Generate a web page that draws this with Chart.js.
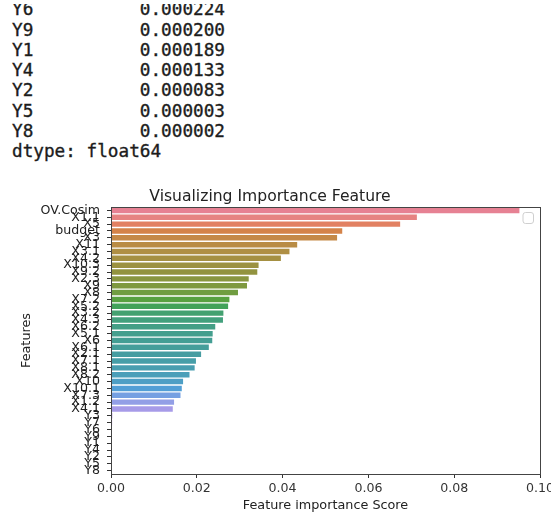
<!DOCTYPE html>
<html><head><meta charset="utf-8">
<script src="https://cdn.jsdelivr.net/npm/chart.js@4/dist/chart.umd.min.js"></script>
<style>
html,body{margin:0;padding:0;background:#fff;width:551px;height:516px;overflow:hidden;position:relative;}
#clip{position:absolute;left:0;top:4px;width:551px;height:170px;overflow:hidden;}
#out{position:absolute;left:12px;top:-4.75px;margin:0;font-family:"DejaVu Sans Mono",monospace;font-size:17.7px;line-height:20.3px;color:#1c1c1c;-webkit-text-stroke:0.35px #1c1c1c;white-space:pre;}
#c{position:absolute;left:0;top:0;}
</style></head><body>
<div id="clip"><pre id="out"></pre></div>
<canvas id="c" width="565" height="516"></canvas>
<script>
// ---- data ----
const features = ["OV.Cosim","X1.1","X5","budget","X3","X11","X3.1","X4.2","X10.3","X9.2",
  "X2.3","X9","X8","X7.2","X5.2","X3.2","X4.3","X6.2","X5.1","X6",
  "X6.1","X2.1","X7.1","X8.1","X8.2","X10","X10.1","X7.3","X1.2","X4.1",
  "Y3","Y7","Y6","Y9","Y1","Y4","Y2","Y5","Y8"];
const importance = [0.0952,0.0713,0.0674,0.0539,0.0527,0.0434,0.0416,0.0396,0.0344,0.0341,
  0.0321,0.0317,0.0296,0.0276,0.0273,0.0262,0.0261,0.0243,0.0237,0.0236,
  0.0228,0.0210,0.0198,0.0195,0.0183,0.0168,0.0165,0.0162,0.0147,0.0144,
  0.000310,0.000262,0.000224,0.000200,0.000189,0.000133,0.000083,0.000003,0.000002];
const xTickValues = [0.00,0.02,0.04,0.06,0.08,0.10];
const printedRows = 7;
const dtypeText = "dtype: float64";
const chartTitle = "Visualizing Importance Feature";
const xTitle = "Feature importance Score";
const yTitle = "Features";

// ---- printed series tail ----
const lines = [];
for (let i = features.length - printedRows; i < features.length; i++) {
  lines.push(features[i].padEnd(12) + importance[i].toFixed(6));
}
lines.push(dtypeText);
document.getElementById('out').textContent = lines.join('\n');

// ---- seaborn husl palette + desaturation ----
const M = [[3.2406,-1.5372,-0.4986],[-0.9689,1.8758,0.0415],[0.0557,-0.2040,1.0570]];
function maxChroma(L,H){
  const hr = H/360*2*Math.PI, sH=Math.sin(hr), cH=Math.cos(hr);
  let sub1 = Math.pow(L+16,3)/1560896;
  let sub2 = sub1>0.008856?sub1:L/903.3;
  let res = Infinity;
  for (const [m1,m2,m3] of M){
    const top=(0.99915*m1+1.05122*m2+1.14460*m3)*sub2;
    const rb=0.86330*m3-0.17266*m2, lb=0.12949*m3-0.38848*m1;
    const bottom=(rb*sH+lb*cH)*sub2;
    for (const t of [0,1]){
      const C=L*(top-1.05122*t)/(bottom+0.17266*sH*t);
      if (C>0 && C<res) res=C;
    }
  }
  return res;
}
function fromLinear(c){return c<=0.0031308?12.92*c:1.055*Math.pow(c,1/2.4)-0.055;}
function huslToRgb(h,s,l){
  const C = maxChroma(l,h)/100*s;
  const hr=h/360*2*Math.PI;
  const U=C*Math.cos(hr), V=C*Math.sin(hr);
  const varY0=(l+16)/116;
  const varY = Math.pow(varY0,3)>0.008856?Math.pow(varY0,3):(116*varY0-16)/903.3;
  const varU=U/(13*l)+0.19784, varV=V/(13*l)+0.46834;
  const Y=varY*1.0;
  const X=0-(9*Y*varU)/((varU-4)*varV-varU*varV);
  const Z=(9*Y-15*varV*Y-varV*X)/(3*varV);
  return M.map(r=>Math.min(1,Math.max(0,fromLinear(r[0]*X+r[1]*Y+r[2]*Z))));
}
function rgbToHls(r,g,b){
  const mx=Math.max(r,g,b), mn=Math.min(r,g,b), l=(mx+mn)/2;
  if (mx===mn) return [0,l,0];
  const d=mx-mn; const s = l<=0.5? d/(mx+mn) : d/(2-mx-mn);
  let h; const rc=(mx-r)/d, gc=(mx-g)/d, bc=(mx-b)/d;
  if (r===mx) h=bc-gc; else if (g===mx) h=2+rc-bc; else h=4+gc-rc;
  h=((h/6)%1+1)%1; return [h,l,s];
}
function hlsToRgb(h,l,s){
  if (s===0) return [l,l,l];
  const m2 = l<=0.5? l*(1+s) : l+s-l*s, m1=2*l-m2;
  const v=(hue)=>{hue=((hue%1)+1)%1; if(hue<1/6) return m1+(m2-m1)*hue*6; if(hue<0.5) return m2; if(hue<2/3) return m1+(m2-m1)*(2/3-hue)*6; return m1;};
  return [v(h+1/3),v(h),v(h-1/3)];
}
function palette(n){
  const out=[];
  for (let i=0;i<n;i++){
    const h=((i/n+0.01)%1)*359;
    const rgb=huslToRgb(h,0.9*99,0.65*99);
    const [hh,ll,ss]=rgbToHls(...rgb);
    const d=hlsToRgb(hh,ll,ss*0.75);
    out.push('rgb('+d.map(c=>Math.round(c*255)).join(',')+')');
  }
  return out;
}
const colors = palette(features.length);

// ---- plugins ----
const frame = {
  id:'frame',
  afterDraw(chart){
    const {ctx, chartArea:a} = chart;
    ctx.save();
    ctx.strokeStyle='#444'; ctx.lineWidth=1;
    ctx.strokeRect(Math.round(a.left)+0.5, Math.round(a.top)+0.5, Math.round(a.right-a.left), Math.round(a.bottom-a.top));
    // empty legend box
    ctx.strokeStyle='#cfcfcf'; ctx.fillStyle='rgba(255,255,255,0.8)';
    const x=a.right-17, y=a.top+5.5, w=10.5, h=11, r=2.5;
    ctx.beginPath();
    ctx.roundRect(x,y,w,h,r);
    ctx.fill(); ctx.stroke();
    ctx.restore();
  }
};

const font = 'DejaVu Sans';
new Chart(document.getElementById('c'), {
  type:'bar',
  data:{ labels: features, datasets:[{ data: importance, backgroundColor: colors, borderWidth:0,
    barPercentage:0.8, categoryPercentage:1.0 }]},
  options:{
    indexAxis:'y', responsive:false, animation:false,
    layout:{ padding:{ left:0, right:25, top:180, bottom:0 } },
    plugins:{
      legend:{display:false}, tooltip:{enabled:false},
      title:{ display:true, text: chartTitle, color:'#222',
        font:{family:font, size:15.6, weight:'normal', lineHeight:1.15}, padding:{top:8,bottom:1.06} }
    },
    scales:{
      x:{ type:'linear', min:0, max:0.10,
        afterBuildTicks(scale){ scale.ticks = xTickValues.map(v=>({value:v})); },
        afterFit(scale){ scale.height = 42; },
        grid:{ display:true, drawOnChartArea:false, drawTicks:true, tickLength:4, color:'#333' },
        border:{ display:true, color:'#444' },
        ticks:{ color:'#333', padding:3, font:{family:font, size:12.6}, maxRotation:0,
          callback:(v)=>Number(v).toFixed(2) },
        title:{ display:true, text:xTitle, color:'#222', font:{family:font, size:12.8, lineHeight:1.2}, padding:{top:4,bottom:3} }
      },
      y:{ type:'category',
        afterFit(scale){ scale.width = 111; },
        grid:{ display:true, drawOnChartArea:false, drawTicks:true, tickLength:4, color:'#333', offset:false },
        border:{ display:true, color:'#444' },
        ticks:{ color:'#222', autoSkip:false, padding:7, font:{family:font, size:12.6} },
        title:{ display:true, text:yTitle, color:'#222', font:{family:font, size:12.8, lineHeight:1.2}, padding:{top:18.5,bottom:0} }
      }
    }
  },
  plugins:[frame]
});
</script>
</body></html>
